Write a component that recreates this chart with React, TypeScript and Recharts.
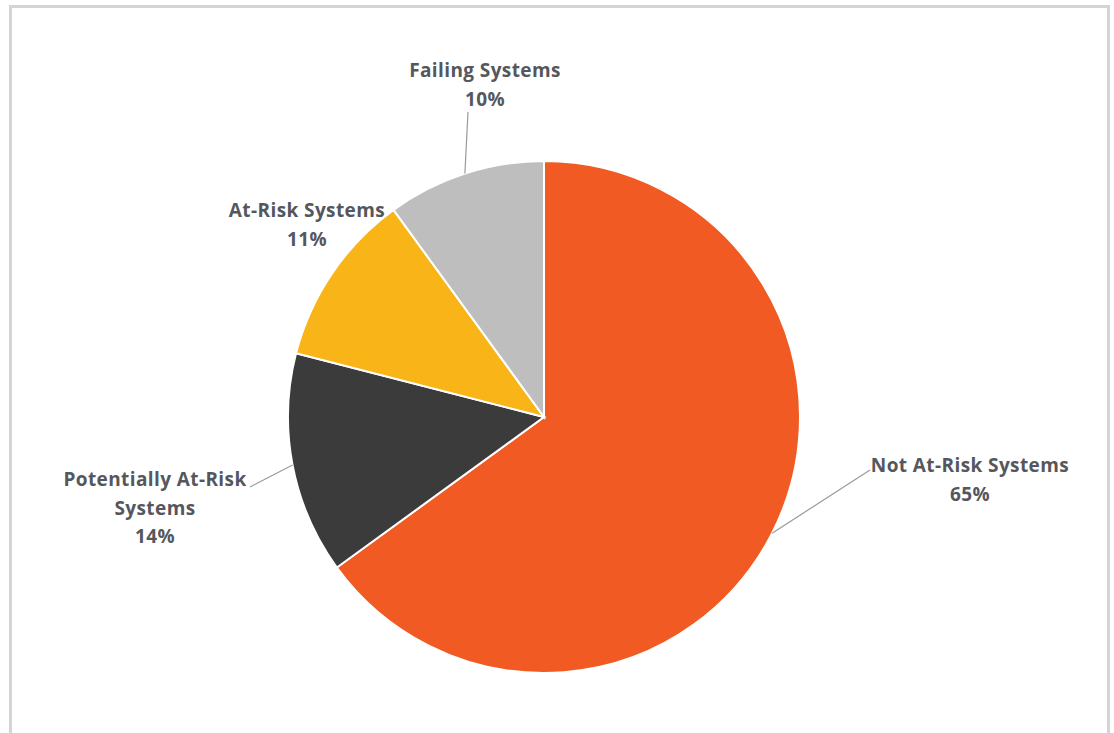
import React from "react";
import { PieChart, Pie, Cell } from "recharts";

const categories = ["Not At-Risk Systems", "Potentially At-Risk Systems", "At-Risk Systems", "Failing Systems"];
const shares = [65, 14, 11, 10];
const colors = ["#F15A22", "#3B3B3B", "#F9B418", "#BEBEBE"];

const data = categories.map((name, i) => ({ name, value: shares[i] }));

// label layout: text centre x, first line centre y, leader end point (null = no leader)
const labelLayout = [
  { tx: 970, ty: 465, elbow: [870, 470] as [number, number] | null },
  { tx: 155, ty: 479, elbow: [250, 487] as [number, number] | null },
  { tx: 307, ty: 210, elbow: null as [number, number] | null },
  { tx: 485, ty: 70, elbow: [468, 112] as [number, number] | null },
];

const RADIAN = Math.PI / 180;
const LINE_H = 28.5;

function wrap(name: string, max: number): string[] {
  if (name.length <= max) return [name];
  const idx = name.lastIndexOf(" ", max);
  return [name.slice(0, idx), name.slice(idx + 1)];
}

const renderLabel = (props: any) => {
  const { cx, cy, midAngle, outerRadius, index, name, value } = props;
  const layout = labelLayout[index];
  const ex = cx + outerRadius * Math.cos(-midAngle * RADIAN);
  const ey = cy + outerRadius * Math.sin(-midAngle * RADIAN);
  const lines = [...wrap(name, 20), `${value}%`];
  return (
    <g key={`lbl-${index}`}>
      {layout.elbow && (
        <polyline
          points={`${ex},${ey} ${layout.elbow[0]},${layout.elbow[1]}`}
          fill="none"
          stroke="#9a9a9a"
          strokeWidth={1.2}
        />
      )}
      {lines.map((t, j) => (
        <text
          key={j}
          x={layout.tx}
          y={layout.ty + j * LINE_H}
          textAnchor="middle"
          dominantBaseline="central"
          fontFamily="'Open Sans', sans-serif"
          fontWeight={700}
          fontSize={19}
          letterSpacing={0.4}
          fill="#55575d"
        >
          {t}
        </text>
      ))}
    </g>
  );
};

export default function App() {
  return (
    <div
      style={{
        position: "absolute",
        left: 0,
        top: 0,
        width: 1114,
        height: 733,
        overflow: "hidden",
        background: "#ffffff",
      }}
    >
      <div
        style={{
          position: "absolute",
          left: 9,
          top: 5,
          width: 1095,
          height: 800,
          border: "3px solid #d4d4d4",
        }}
      />
      <div style={{ position: "absolute", left: 0, top: 0 }}>
        <PieChart width={1114} height={733} margin={{ top: 0, right: 0, bottom: 0, left: 0 }}>
          <Pie
            data={data}
            dataKey="value"
            nameKey="name"
            cx={544}
            cy={417}
            outerRadius={256}
            startAngle={90}
            endAngle={-270}
            stroke="#ffffff"
            strokeWidth={2}
            label={renderLabel}
            labelLine={false}
            isAnimationActive={false}
          >
            {data.map((d, i) => (
              <Cell key={d.name} fill={colors[i]} />
            ))}
          </Pie>
        </PieChart>
      </div>
    </div>
  );
}
